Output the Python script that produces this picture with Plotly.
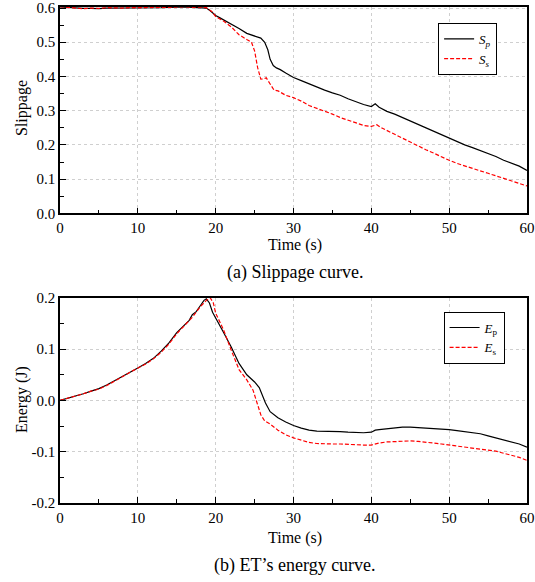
import plotly.graph_objects as go

# (a) slippage
t_sp = [0, 1, 2, 3, 4, 5, 6, 7, 8, 9, 10, 11, 12, 13, 14, 15, 16, 17, 18, 18.8, 19.3, 20, 20.5,
        21, 22, 23, 24, 25, 25.8, 26.3, 26.7, 27.0, 27.4, 27.8, 28.3, 29, 30, 31, 32, 33, 34, 35,
        36, 37, 38, 39, 40, 40.5, 41, 42, 43, 44, 45, 46, 47, 48, 49, 50, 51, 52, 53, 54, 55, 56,
        57, 58, 59, 60]
sp = [0.603, 0.601, 0.600, 0.599, 0.599, 0.598, 0.600, 0.600, 0.601, 0.600, 0.599, 0.600, 0.601,
      0.601, 0.602, 0.603, 0.603, 0.602, 0.602, 0.600, 0.592, 0.578, 0.572, 0.566, 0.553, 0.540,
      0.526, 0.519, 0.512, 0.500, 0.478, 0.450, 0.432, 0.425, 0.420, 0.410, 0.397, 0.388, 0.378,
      0.370, 0.360, 0.352, 0.345, 0.335, 0.326, 0.318, 0.312, 0.320, 0.310, 0.298, 0.290, 0.280,
      0.268, 0.258, 0.248, 0.238, 0.228, 0.218, 0.208, 0.200, 0.192, 0.184, 0.175, 0.166, 0.155,
      0.146, 0.138, 0.125]

t_ss = [0, 1, 2, 3, 4, 5, 6, 7, 8, 9, 10, 11, 12, 13, 14, 15, 16, 17, 18, 18.8, 19.5, 20, 21, 22,
        23, 24, 24.6, 25.0, 25.4, 25.8, 26.2, 26.5, 27, 27.5, 28, 29, 30, 31, 32, 33, 34, 35, 36,
        37, 38, 39, 40, 40.7, 41.3, 42, 43, 44, 45, 46, 47, 48, 49, 50, 51, 52, 53, 54, 55, 56,
        57, 58, 59, 60]
ss = [0.604, 0.602, 0.600, 0.598, 0.600, 0.599, 0.601, 0.600, 0.600, 0.601, 0.601, 0.600, 0.601,
      0.602, 0.602, 0.603, 0.604, 0.602, 0.603, 0.601, 0.590, 0.575, 0.562, 0.545, 0.522, 0.508,
      0.500, 0.475, 0.425, 0.392, 0.393, 0.396, 0.378, 0.360, 0.358, 0.345, 0.338, 0.328, 0.315,
      0.307, 0.300, 0.290, 0.280, 0.272, 0.264, 0.257, 0.254, 0.259, 0.250, 0.242, 0.230, 0.218,
      0.207, 0.196, 0.186, 0.176, 0.165, 0.155, 0.146, 0.138, 0.131, 0.124, 0.117, 0.110, 0.102,
      0.095, 0.088, 0.080]

# (b) energy
t_ep = [0, 1, 2, 3, 4, 5, 6, 7, 8, 9, 10, 11, 12, 13, 14, 15, 16, 16.6, 17, 17.5, 18, 18.5, 18.8,
        19.2, 19.6, 20, 21, 22, 23, 24, 25, 25.6, 26, 26.4, 27, 27.5, 28, 29, 30, 31, 32, 33, 34,
        35, 36, 37, 38, 39, 40, 40.5, 41, 42, 43, 44, 45, 46, 47, 48, 49, 50, 51, 52, 53, 54, 55,
        56, 57, 58, 59, 60]
ep = [0.0, 0.004, 0.009, 0.013, 0.018, 0.023, 0.030, 0.038, 0.046, 0.055, 0.063, 0.072, 0.082,
      0.096, 0.112, 0.132, 0.148, 0.156, 0.167, 0.173, 0.184, 0.195, 0.198, 0.190, 0.172, 0.160,
      0.133, 0.104, 0.072, 0.050, 0.036, 0.025, 0.010, -0.005, -0.022, -0.028, -0.034, -0.042,
      -0.049, -0.054, -0.058, -0.060, -0.060, -0.061, -0.061, -0.062, -0.063, -0.063, -0.062,
      -0.058, -0.057, -0.055, -0.054, -0.052, -0.052, -0.053, -0.053, -0.055, -0.056, -0.057,
      -0.059, -0.061, -0.062, -0.065, -0.069, -0.073, -0.077, -0.081, -0.085, -0.091]

t_es = [0, 1, 2, 3, 4, 5, 6, 7, 8, 9, 10, 11, 12, 13, 14, 15, 16, 17, 18, 18.8, 19.3, 19.7, 20,
        21, 22, 23, 24, 24.8, 25.3, 25.8, 26.3, 27, 28, 29, 30, 31, 32, 33, 34, 35, 36, 37, 38,
        39, 40, 41, 42, 43, 44, 45, 46, 47, 48, 49, 50, 51, 52, 53, 54, 55, 56, 57, 58, 59, 60]
es = [0.0, 0.004, 0.009, 0.013, 0.018, 0.022, 0.029, 0.037, 0.046, 0.055, 0.063, 0.071, 0.081,
      0.094, 0.110, 0.130, 0.146, 0.162, 0.182, 0.195, 0.200, 0.190, 0.170, 0.138, 0.098, 0.060,
      0.040, 0.020, -0.004, -0.028, -0.040, -0.046, -0.058, -0.067, -0.073, -0.078, -0.082,
      -0.084, -0.085, -0.085, -0.085, -0.086, -0.086, -0.087, -0.087, -0.083, -0.081, -0.080,
      -0.079, -0.079, -0.080, -0.081, -0.083, -0.085, -0.087, -0.088, -0.090, -0.092, -0.094,
      -0.096, -0.099, -0.103, -0.107, -0.111, -0.117]

FONT = "Times New Roman, Liberation Serif, DejaVu Serif, serif"

fig = go.Figure()
fig.add_trace(go.Scatter(x=t_sp, y=sp, mode="lines", name="<i>S</i><sub><i>p</i></sub>",
                         line=dict(color="black", width=1.2), xaxis="x", yaxis="y", legend="legend"))
fig.add_trace(go.Scatter(x=t_ss, y=ss, mode="lines", name="<i>S</i><sub><i>s</i></sub>",
                         line=dict(color="red", width=1.2, dash="4px,2px"), xaxis="x", yaxis="y",
                         legend="legend"))
fig.add_trace(go.Scatter(x=t_ep, y=ep, mode="lines", name="<i>E</i><sub>p</sub>",
                         line=dict(color="black", width=1.2), xaxis="x2", yaxis="y2", legend="legend2"))
fig.add_trace(go.Scatter(x=t_es, y=es, mode="lines", name="<i>E</i><sub>s</sub>",
                         line=dict(color="red", width=1.2, dash="4px,2px"), xaxis="x2", yaxis="y2",
                         legend="legend2"))

ax_common = dict(showline=True, linecolor="black", linewidth=1.5, mirror=True,
                 ticks="inside", ticklen=6, tickcolor="black", showgrid=True,
                 gridcolor="#cfcfcf", griddash="dot", gridwidth=1, zeroline=False,
                 ticklabeloverflow="allow", automargin=False,
                 tickfont=dict(family=FONT, size=15, color="black"))

xax = dict(ax_common, range=[0, 60], dtick=10,
           minor=dict(dtick=5, ticks="inside", ticklen=4, tickcolor="black", showgrid=False))

W, H = 535, 582
l, r, t, b = 60, 8, 7, 79
pw, ph = W - l - r, H - t - b

fig.update_layout(
    width=W, height=H,
    paper_bgcolor="white", plot_bgcolor="white",
    margin=dict(l=l, r=r, t=t, b=b),
    showlegend=True,
    xaxis=dict(xax, anchor="y"),
    yaxis=dict(ax_common, domain=[0.584, 1], range=[0, 0.603], dtick=0.1, tickformat=".1f",
               anchor="x",
               minor=dict(dtick=0.05, ticks="inside", ticklen=4, tickcolor="black", showgrid=False)),
    xaxis2=dict(xax, anchor="y2"),
    yaxis2=dict(ax_common, domain=[0, 0.4137], range=[-0.2, 0.2], anchor="x2",
                tickvals=[-0.2, -0.1, 0.0, 0.1, 0.2], ticktext=["-0.2", "-0.1", "0.0", "0.1", "0.2"],
                minor=dict(dtick=0.05, ticks="inside", ticklen=4, tickcolor="black", showgrid=False)),
    legend=dict(x=0.936, y=0.968, xanchor="right", yanchor="top", bordercolor="black",
                borderwidth=1, bgcolor="white", font=dict(family=FONT, size=13, color="black"),
                tracegroupgap=0),
    legend2=dict(x=0.952, y=0.386, xanchor="right", yanchor="top", bordercolor="black",
                 borderwidth=1, bgcolor="white", font=dict(family=FONT, size=13, color="black"),
                 tracegroupgap=0),
)

# annotations placed by pixel position, converted to paper coordinates
labels = [
    ("Slippage", 22, 108, -90, 16),
    ("Time (s)", 295, 245, 0, 16),
    ("(a) Slippage curve.", 295, 272, 0, 18),
    ("Energy (J)", 22, 400, -90, 16),
    ("Time (s)", 295, 538, 0, 16),
    ("(b) ET’s energy curve.", 295, 565, 0, 18),
]
fig.update_layout(annotations=[
    dict(text=txt, x=(px - l) / pw, y=(H - b - py) / ph, xref="paper", yref="paper",
         xanchor="center", yanchor="middle", textangle=ang, showarrow=False,
         font=dict(family=FONT, size=sz, color="black"))
    for txt, px, py, ang, sz in labels
])

fig.write_html("out.html", config={"displayModeBar": False},
               post_script="document.body.style.margin='0';")
